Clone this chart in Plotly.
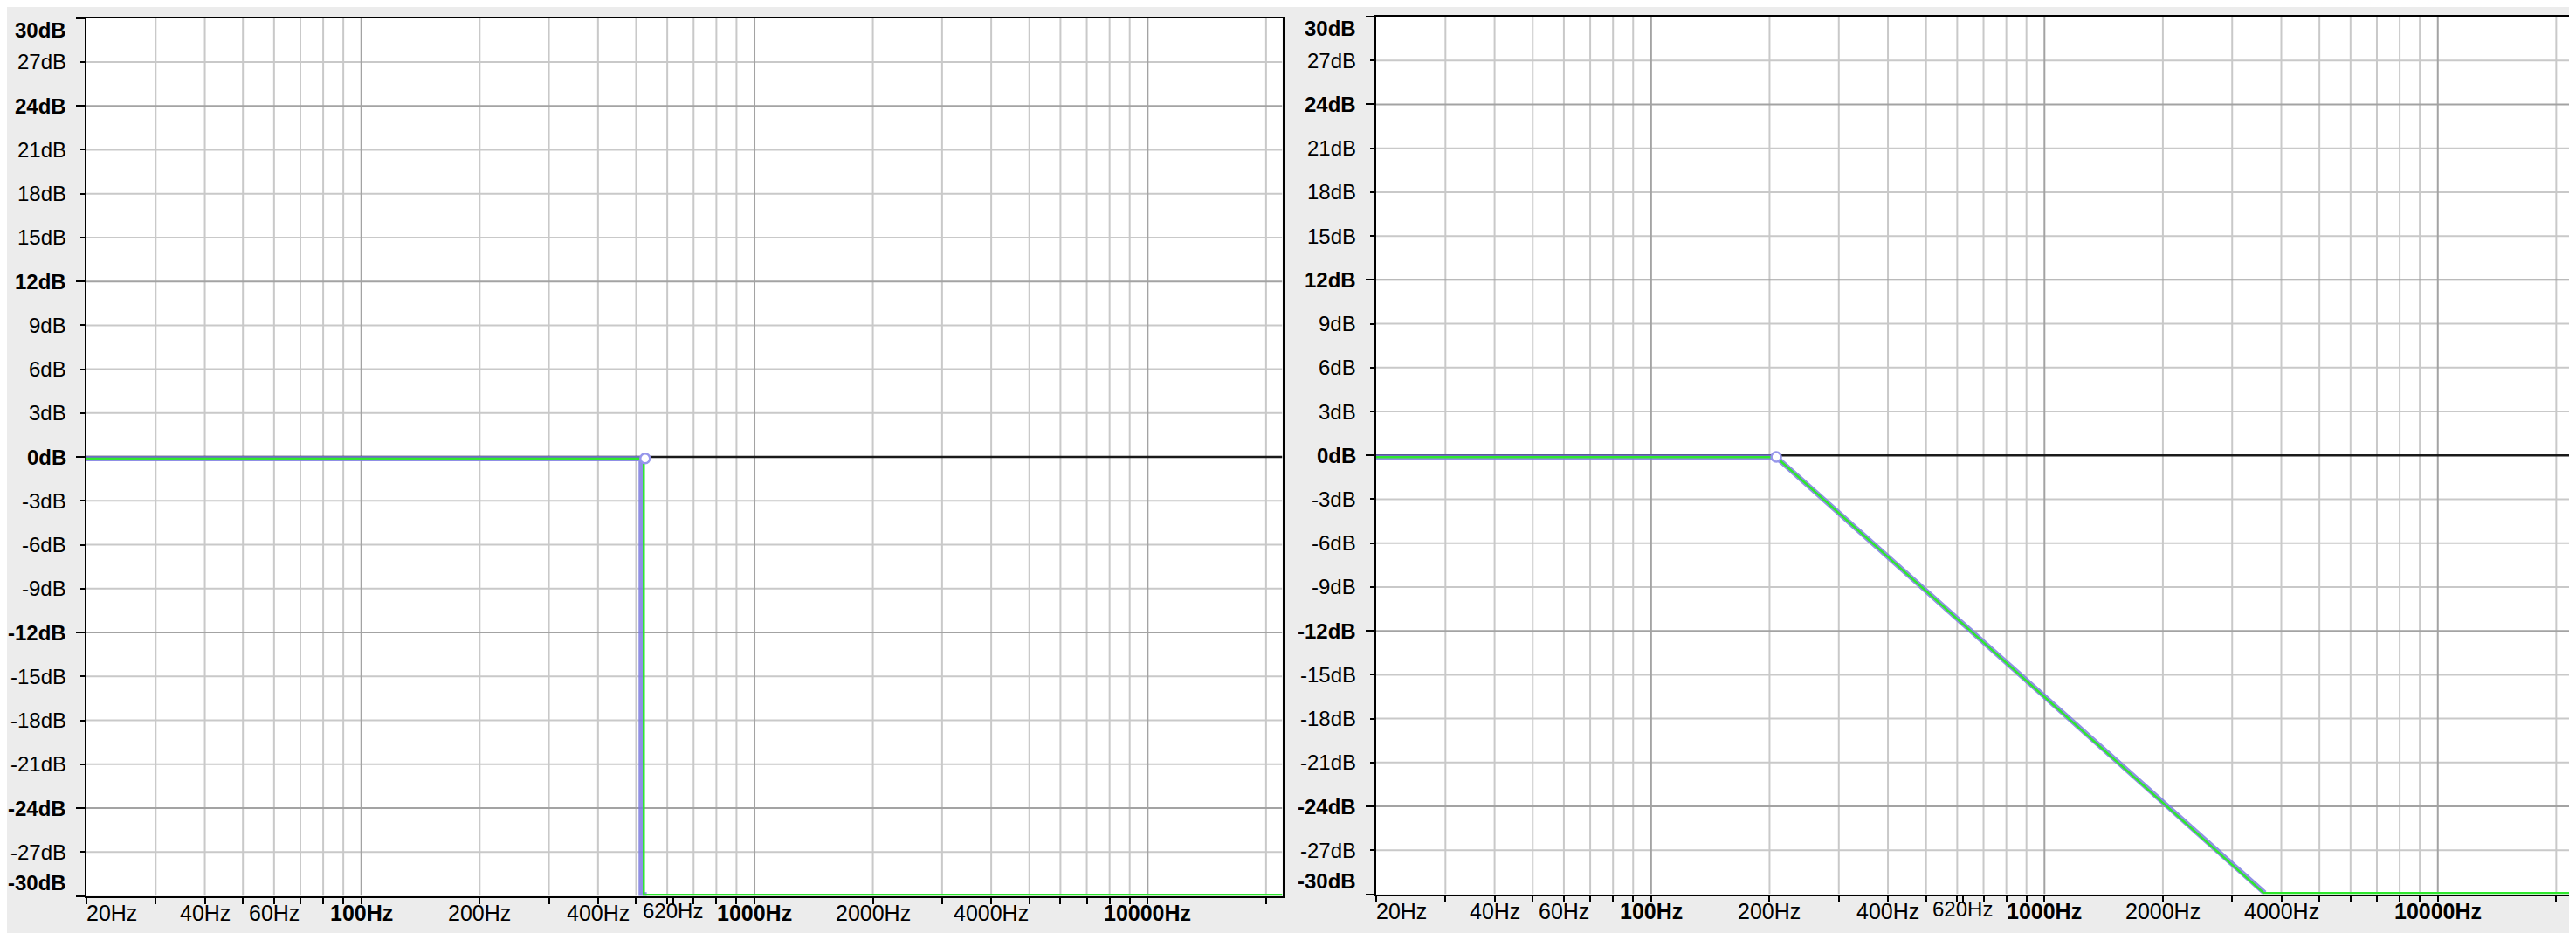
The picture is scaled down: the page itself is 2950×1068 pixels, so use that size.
import math
import plotly.graph_objects as go

# ---------------- data ----------------
F_MIN, F_MAX = 20, 22000
DB_MIN, DB_MAX = -30, 30

grid_freqs_light = [30, 40, 50, 60, 70, 80, 90,
                    200, 300, 400, 500, 600, 700, 800, 900,
                    2000, 3000, 4000, 5000, 6000, 7000, 8000, 9000, 20000]
grid_freqs_dark = [100, 1000, 10000]
tick_freqs = [20, 30, 40, 50, 60, 70, 80, 90, 100,
              200, 300, 400, 500, 600, 620, 700, 800, 900, 1000,
              2000, 3000, 4000, 5000, 6000, 7000, 8000, 9000, 10000, 20000]
x_label_freqs = [20, 40, 60, 100, 200, 400, 620, 1000, 2000, 4000, 10000]
x_label_texts = ["20Hz", "40Hz", "60Hz", "100Hz", "200Hz", "400Hz", "620Hz",
                 "1000Hz", "2000Hz", "4000Hz", "10000Hz"]
x_label_bold = [100, 1000, 10000]

grid_db_light = [27, 21, 18, 15, 9, 6, 3, -3, -6, -9, -15, -18, -21, -27]
grid_db_dark = [24, 12, -12, -24]
grid_db_zero = [0]
y_label_db = [30, 27, 24, 21, 18, 15, 12, 9, 6, 3, 0, -3, -6, -9, -12, -15, -18, -21, -24, -27, -30]
y_label_bold = [30, 24, 12, 0, -12, -24, -30]

# left panel: brick-wall low-pass
left_green_f = [20, 523, 523, 22000]
left_green_db = [-0.12, -0.12, -29.92, -29.92]
left_blue_f = [20, 515, 515, 532]
left_blue_db = [-0.12, -0.12, -29.92, -29.92]
left_handle_f = [527]
left_handle_db = [-0.1]

# right panel: sloped low-pass
right_green_f = [20, 208, 3608, 22000]
right_green_db = [-0.12, -0.12, -29.92, -29.92]
right_blue_f = [20, 208, 3630]
right_blue_db = [-0.12, -0.12, -29.92]
right_handle_f = [208]
right_handle_db = [-0.1]

# ---------------- style ----------------
W, H = 2950, 1068
BG = "#ececec"
LIGHT = "#c9c9c9"
DARK = "#a3a3a3"
GREEN = "#2ee82e"
BLUE = "rgba(125,125,225,0.85)"
FONT = "Liberation Sans, Arial, Helvetica, sans-serif"
FS_X = 25
FS_Y = 24

fig = go.Figure()

panels = [
    dict(xa="x", ya="y", xd=[91 / W, 1460.5 / W], yd=[(H - 1017.5) / H, (H - 12.7) / H],
         gf=left_green_f, gd=left_green_db, bf=left_blue_f, bd=left_blue_db,
         hf=left_handle_f, hd=left_handle_db),
    dict(xa="x2", ya="y2", xd=[1568 / W, 2938 / W], yd=[(H - 1015.5) / H, (H - 11) / H],
         gf=right_green_f, gd=right_green_db, bf=right_blue_f, bd=right_blue_db,
         hf=right_handle_f, hd=right_handle_db),
]


def vlines(freqs):
    xs, ys = [], []
    for f in freqs:
        xs += [f, f, None]
        ys += [DB_MIN, DB_MAX, None]
    return xs, ys


def hlines(dbs):
    xs, ys = [], []
    for d in dbs:
        xs += [F_MIN, F_MAX, None]
        ys += [d, d, None]
    return xs, ys


annotations = []
layout_axes = {}
for i, p in enumerate(panels):
    xa, ya = p["xa"], p["ya"]
    common = dict(xaxis=xa, yaxis=ya, hoverinfo="skip", showlegend=False, mode="lines")
    x, y = vlines(grid_freqs_light)
    fig.add_trace(go.Scatter(x=x, y=y, line=dict(color=LIGHT, width=2), **common))
    x, y = hlines(grid_db_light)
    fig.add_trace(go.Scatter(x=x, y=y, line=dict(color=LIGHT, width=2), **common))
    x, y = vlines(grid_freqs_dark)
    fig.add_trace(go.Scatter(x=x, y=y, line=dict(color=DARK, width=2), **common))
    x, y = hlines(grid_db_dark)
    fig.add_trace(go.Scatter(x=x, y=y, line=dict(color=DARK, width=2), **common))
    x, y = hlines(grid_db_zero)
    fig.add_trace(go.Scatter(x=x, y=y, line=dict(color="#1a1a1a", width=2.5), **common))
    # curves
    fig.add_trace(go.Scatter(x=p["bf"], y=p["bd"], line=dict(color=BLUE, width=6), **common))
    fig.add_trace(go.Scatter(x=p["gf"], y=p["gd"], line=dict(color=GREEN, width=2.5), **common))
    fig.add_trace(go.Scatter(x=p["hf"], y=p["hd"], xaxis=xa, yaxis=ya, mode="markers",
                             hoverinfo="skip", showlegend=False,
                             marker=dict(size=11, color="white",
                                         line=dict(color="rgb(150,150,235)", width=2.5))))

    suffix = "" if i == 0 else str(i + 1)
    layout_axes["xaxis" + suffix] = dict(
        type="log", range=[math.log10(F_MIN), math.log10(F_MAX)], domain=p["xd"], anchor=ya,
        showgrid=False, zeroline=False, showline=True, linecolor="black", linewidth=2,
        mirror=True, ticks="outside", ticklen=7, tickwidth=2, tickcolor="black",
        tickvals=tick_freqs, showticklabels=False, fixedrange=True)
    y_major = y_label_bold
    y_minor = [d for d in y_label_db if d not in y_label_bold]
    layout_axes["yaxis" + suffix] = dict(
        range=[DB_MIN, DB_MAX], domain=p["yd"], anchor=xa,
        showgrid=False, zeroline=False, showline=True, linecolor="black", linewidth=2,
        mirror=True, ticks="outside", ticklen=10, tickwidth=2, tickcolor="black",
        tickvals=y_major, showticklabels=False, fixedrange=True,
        minor=dict(tickvals=y_minor, ticks="outside", ticklen=5, tickwidth=2,
                   tickcolor="black", showgrid=False))

    # x tick labels
    for f, t in zip(x_label_freqs, x_label_texts):
        txt = f"<b>{t}</b>" if f in x_label_bold else t
        ann = dict(x=math.log10(f), xref=xa, y=0, yref=ya + " domain",
                   text=txt, showarrow=False, xanchor="center", yanchor="middle",
                   yshift=-19, font=dict(family=FONT, size=FS_X, color="black"))
        if f == 20:
            ann["xanchor"] = "left"
            ann["xshift"] = -2
        if f == 620:
            ann["yshift"] = -17
            ann["font"] = dict(family=FONT, size=24, color="black")
        annotations.append(ann)
    # y tick labels
    for d in y_label_db:
        txt = f"{d}dB"
        if d in y_label_bold:
            txt = f"<b>{txt}</b>"
        ys = 0
        if d == DB_MAX:
            ys = -14
        elif d == DB_MIN:
            ys = 15
        annotations.append(dict(x=0, xref=xa + " domain", y=d, yref=ya, text=txt,
                                showarrow=False, xanchor="right", yanchor="middle",
                                xshift=-21, yshift=ys,
                                font=dict(family=FONT, size=FS_Y, color="black")))

# sliver of a neighbouring panel's mark at the right edge of the image
shapes = [dict(type="line", xref="paper", yref="paper",
               x0=2945 / W, x1=2950 / W, y0=(H - 30) / H, y1=(H - 30) / H,
               line=dict(color="#222222", width=2))]

fig.update_layout(
    width=W, height=H, margin=dict(l=0, r=0, t=0, b=0),
    paper_bgcolor=BG, plot_bgcolor="white",
    annotations=annotations, shapes=shapes, showlegend=False,
    **layout_axes,
)

fig.write_html("out.html", config={"displayModeBar": False})
